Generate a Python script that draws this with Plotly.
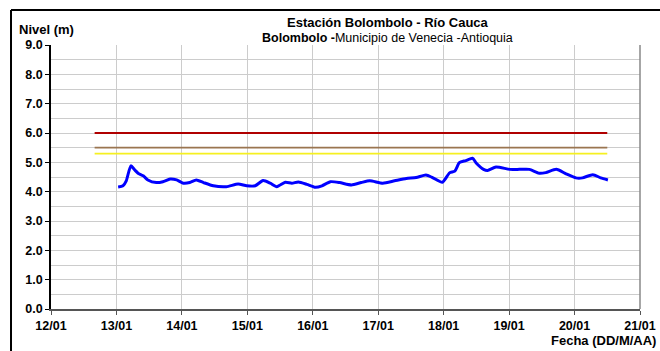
import plotly.graph_objects as go

# Nivel del río (m)
fechas = [
    "2011-01-13 00:37", "2011-01-13 02:24", "2011-01-13 03:36", "2011-01-13 05:17",
    "2011-01-13 06:43", "2011-01-13 07:55", "2011-01-13 09:50", "2011-01-13 11:31",
    "2011-01-13 14:38", "2011-01-13 17:02", "2011-01-13 19:41", "2011-01-13 22:05",
    "2011-01-14 00:29", "2011-01-14 02:53", "2011-01-14 05:17", "2011-01-14 07:55",
    "2011-01-14 11:31", "2011-01-14 16:19", "2011-01-14 20:38", "2011-01-14 23:46",
    "2011-01-15 02:53", "2011-01-15 05:46", "2011-01-15 08:24", "2011-01-15 10:48",
    "2011-01-15 13:55", "2011-01-15 16:19", "2011-01-15 18:43", "2011-01-15 21:50",
    "2011-01-16 00:58", "2011-01-16 03:22", "2011-01-16 06:29", "2011-01-16 09:50",
    "2011-01-16 14:10", "2011-01-16 17:46", "2011-01-16 20:53", "2011-01-17 01:41",
    "2011-01-17 06:00", "2011-01-17 10:19", "2011-01-17 13:55", "2011-01-17 17:31",
    "2011-01-17 19:55", "2011-01-17 23:31", "2011-01-18 02:10", "2011-01-18 04:05",
    "2011-01-18 05:46", "2011-01-18 08:10", "2011-01-18 10:34", "2011-01-18 12:00",
    "2011-01-18 14:38", "2011-01-18 16:05", "2011-01-18 19:12", "2011-01-19 00:14",
    "2011-01-19 03:50", "2011-01-19 07:26", "2011-01-19 11:02", "2011-01-19 13:26",
    "2011-01-19 17:17", "2011-01-19 20:53", "2011-01-20 00:29", "2011-01-20 02:53",
    "2011-01-20 06:43", "2011-01-20 09:36", "2011-01-20 12:14",
]
nivel = [
    4.16, 4.20, 4.37, 4.88, 4.74, 4.63, 4.54, 4.40,
    4.31, 4.34, 4.43, 4.40, 4.29, 4.31, 4.40, 4.31,
    4.20, 4.17, 4.26, 4.20, 4.20, 4.38, 4.29, 4.17,
    4.32, 4.29, 4.33, 4.25, 4.15, 4.20, 4.34, 4.31,
    4.23, 4.31, 4.37, 4.29, 4.37, 4.45, 4.48, 4.57,
    4.48, 4.32, 4.64, 4.70, 4.99, 5.06, 5.14, 4.97,
    4.76, 4.72, 4.84, 4.76, 4.76, 4.76, 4.63, 4.65,
    4.76, 4.61, 4.47, 4.47, 4.58, 4.47, 4.40,
]

# Niveles de alerta
umbral_fechas = ["2011-01-12 16:00", "2011-01-20 12:00"]
umbral_valores = [6.0, 5.5, 5.3]
umbral_colores = ["#b00000", "#9a7550", "#f5f020"]

x_ticks = ["2011-01-%02d" % d for d in range(12, 22)]
x_ticktext = ["%02d/01" % d for d in range(12, 22)]

fig = go.Figure()
for v, c in zip(umbral_valores, umbral_colores):
    fig.add_trace(go.Scatter(x=umbral_fechas, y=[v, v], mode="lines",
                             line=dict(color=c, width=1.8), showlegend=False))
fig.add_trace(go.Scatter(x=fechas, y=nivel, mode="lines",
                         line=dict(color="#0000ff", width=3, shape="spline", smoothing=0.6),
                         showlegend=False))

font_b = dict(family="Liberation Sans, Arial", size=13, color="black")
font_s = dict(family="Liberation Sans, Arial", size=12.5, color="black")
font_t = dict(family="Liberation Sans, Arial", size=12.5, color="black")

fig.update_layout(
    width=660, height=351,
    margin=dict(l=51, r=20, t=45, b=42, autoexpand=False),
    paper_bgcolor="white", plot_bgcolor="white",
    font=dict(family="Liberation Sans, Arial", size=13, color="black"),
    xaxis=dict(
        type="date", range=["2011-01-12", "2011-01-21"],
        tickvals=x_ticks, ticktext=["<b>%s</b>" % t for t in x_ticktext],
        showgrid=True, gridcolor="#cccccc", gridwidth=1.3,
        showline=True, linecolor="#555555", linewidth=1.5,
        ticks="outside", ticklen=4, tickcolor="#555555",
        tickfont=font_t, zeroline=False,
    ),
    yaxis=dict(
        range=[0, 9], tickvals=[0, 1, 2, 3, 4, 5, 6, 7, 8, 9],
        ticktext=["<b>%.1f</b>" % v for v in range(10)],
        showgrid=True, gridcolor="#cccccc", gridwidth=1.3,
        minor=dict(dtick=0.5, showgrid=True, gridcolor="#cccccc", gridwidth=1.3),
        showline=True, linecolor="black", linewidth=1.5,
        ticks="outside", ticklen=4, tickcolor="black",
        tickfont=font_t, zeroline=False,
    ),
    annotations=[
        dict(text="<b>Estación Bolombolo - Río Cauca</b>", x=0.572, y=1.087,
             xref="paper", yref="paper", showarrow=False, xanchor="center", yanchor="middle",
             font=font_b),
        dict(text="<b>Bolombolo -</b>Municipio de Venecia -Antioquia", x=0.572, y=1.0265,
             xref="paper", yref="paper", showarrow=False, xanchor="center", yanchor="middle",
             font=font_s),
        dict(text="<b>Nivel (m)</b>", x=-0.058, y=1.0606, xref="paper", yref="paper",
             showarrow=False, xanchor="left", yanchor="middle", font=font_b),
        dict(text="<b>Fecha (DD/M/AA)</b>", x=1.03, y=-0.121, xref="paper", yref="paper",
             showarrow=False, xanchor="right", yanchor="middle", font=font_b),
    ],
    shapes=[
        dict(type="line", xref="paper", yref="paper", x0=1, x1=1, y0=0, y1=1,
             line=dict(color="#888888", width=1.5)),
        dict(type="line", xref="paper", yref="paper", x0=-0.0679, x1=1.05, y0=1.1326, y1=1.1326,
             line=dict(color="black", width=2)),
        dict(type="line", xref="paper", yref="paper", x0=-0.0679, x1=-0.0679, y0=1.1326, y1=-0.2,
             line=dict(color="black", width=2)),
    ],
)

fig.write_html("out.html", config={"displayModeBar": False},
               post_script="document.body.style.margin='0';document.body.style.overflow='hidden';")
